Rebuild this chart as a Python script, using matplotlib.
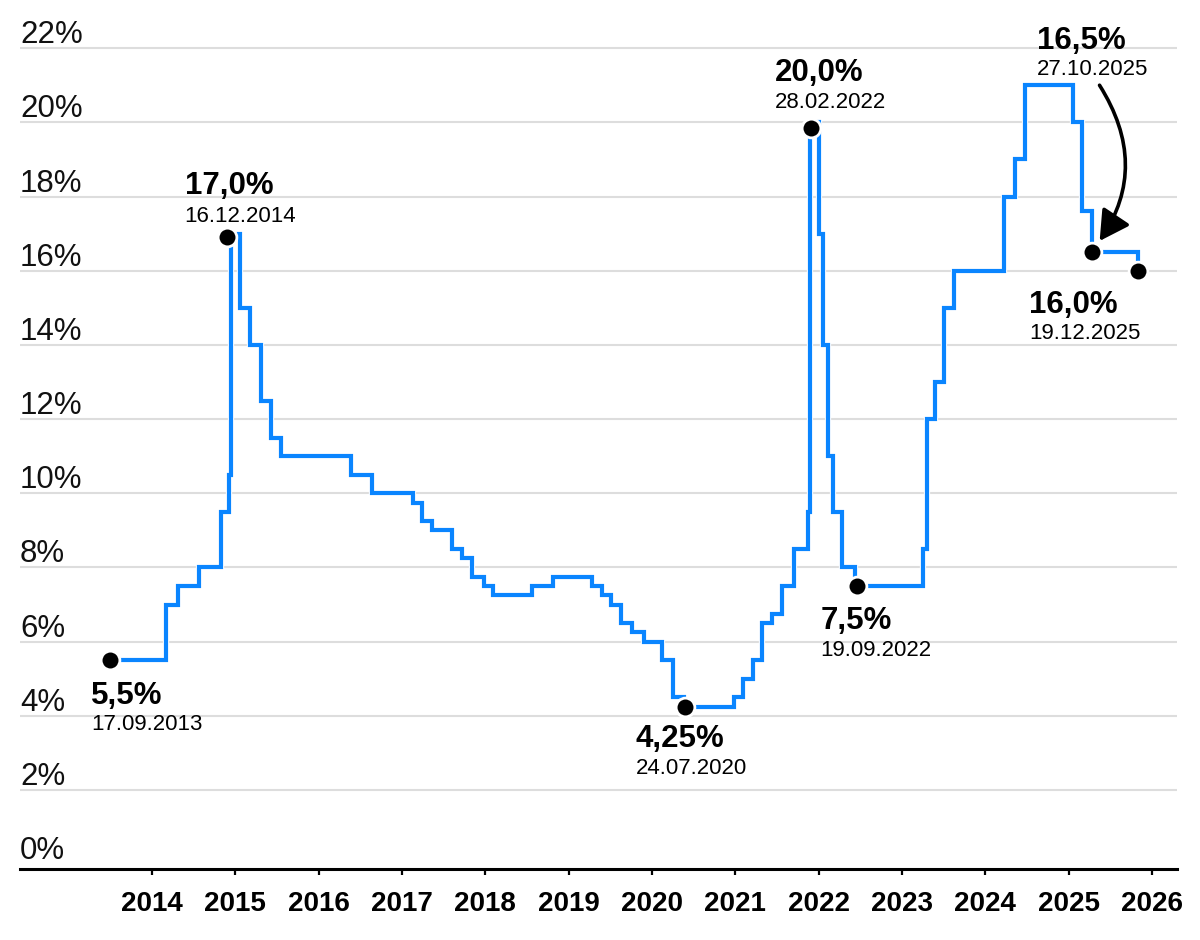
import matplotlib.pyplot as plt
import matplotlib.patheffects as pe

plt.rcParams['font.family'] = ['Liberation Sans', 'DejaVu Sans']

# key rate steps: start of each level (decimal year) and rate in %
step_years = [2013.496, 2014.168, 2014.316, 2014.564, 2014.824, 2014.924, 2014.942,
              2015.056, 2015.176, 2015.308, 2015.424, 2015.544, 2016.384, 2016.636,
              2017.136, 2017.236, 2017.356, 2017.596, 2017.716, 2017.836, 2017.984,
              2018.096, 2018.557, 2018.808, 2019.284, 2019.397, 2019.505, 2019.629,
              2019.756, 2019.908, 2020.116, 2020.256, 2020.384, 2020.984, 2021.088,
              2021.216, 2021.316, 2021.446, 2021.556, 2021.704, 2021.868, 2021.896,
              2022.008, 2022.048, 2022.116, 2022.168, 2022.284, 2022.440, 2023.249,
              2023.300, 2023.396, 2023.504, 2023.624, 2024.224, 2024.356, 2024.476,
              2025.056, 2025.156, 2025.276, 2025.836]
step_rates = [5.5, 7.0, 7.5, 8.0, 9.5, 10.5, 17.0,
              15.0, 14.0, 12.5, 11.5, 11.0, 10.5, 10.0,
              9.75, 9.25, 9.0, 8.5, 8.25, 7.75, 7.5,
              7.25, 7.5, 7.75, 7.5, 7.25, 7.0, 6.5,
              6.25, 6.0, 5.5, 4.5, 4.25, 4.5, 5.0,
              5.5, 6.5, 6.75, 7.5, 8.5, 9.5, 20.0,
              17.0, 14.0, 11.0, 9.5, 8.0, 7.5, 8.5,
              12.0, 13.0, 15.0, 16.0, 18.0, 19.0, 21.0,
              20.0, 17.6, 16.5, 16.0]

# marked points
mark_years = [2013.496, 2014.896, 2020.396, 2021.908, 2022.456, 2025.276, 2025.836]
mark_rates = [5.5, 16.9, 4.25, 19.85, 7.5, 16.5, 16.0]
mark_values = ['5,5%', '17,0%', '4,25%', '20,0%', '7,5%', '16,5%', '16,0%']
mark_dates = ['17.09.2013', '16.12.2014', '24.07.2020', '28.02.2022',
              '19.09.2022', '27.10.2025', '19.12.2025']

y_ticks = [0, 2, 4, 6, 8, 10, 12, 14, 16, 18, 20, 22]
x_ticks = list(range(2014, 2027))

BLUE = '#0a85ff'
GRID = '#dddddd'

# label offsets in pixels: (dx, dy of value, dy of date)
label_offsets = [(-19, -44, -70), (-42, 43, 15), (-49, -40, -67), (-36, 47, 20),
                 (-36, -43, -70), (-55, 203, 177), (-109, -42, -68)]


def main():
    fig = plt.figure(figsize=(12, 9.4), dpi=100)
    ax = fig.add_axes([0.0167, 0.0755, 0.964, 0.9245])

    ax.set_xlim(2012.416, 2026.30)
    ax.set_ylim(-0.13, 23.3)

    for v in y_ticks[1:]:
        ax.axhline(v, color=GRID, lw=1.5, zorder=1)
    for v in y_ticks:
        ax.annotate(f'{v}%', xy=(0, v), xycoords=('axes fraction', 'data'),
                    xytext=(0, 5), textcoords='offset pixels',
                    ha='left', va='baseline', fontsize=22.5, color='#111111')

    ax.plot(step_years, step_rates, drawstyle='steps-post', color=BLUE, lw=3,
            solid_joinstyle='miter', zorder=3,
            path_effects=[pe.Stroke(linewidth=4.5, foreground='white'), pe.Normal()])

    ax.plot(mark_years, mark_rates, 'o', ms=13.5, mfc='black', mec='white',
            mew=2, zorder=5)

    for x, y, val, date, (dx, dv, dd) in zip(mark_years, mark_rates, mark_values,
                                             mark_dates, label_offsets):
        ax.annotate(val, xy=(x, y), xytext=(dx, dv), textcoords='offset pixels',
                    ha='left', va='baseline', fontsize=22.5, fontweight='bold',
                    color='black', zorder=6)
        ax.annotate(date, xy=(x, y), xytext=(dx, dd), textcoords='offset pixels',
                    ha='left', va='baseline', fontsize=16, color='black', zorder=6)

    # curved arrow from the 16,5% label down to its point
    ax.annotate('', xy=(mark_years[5], mark_rates[5]), xytext=(8, 167),
                textcoords='offset pixels',
                arrowprops=dict(arrowstyle='-|>,head_length=0.9,head_width=0.5',
                                mutation_scale=20, color='black', lw=2.6,
                                connectionstyle='arc3,rad=-0.35',
                                shrinkA=0, shrinkB=10),
                zorder=6)

    for side in ('left', 'right', 'top'):
        ax.spines[side].set_visible(False)
    ax.spines['bottom'].set_color('black')
    ax.spines['bottom'].set_linewidth(2.2)

    ax.set_yticks([])
    ax.set_xticks(x_ticks)
    ax.set_xticklabels([str(y) for y in x_ticks], fontsize=20, fontweight='bold')
    ax.tick_params(axis='x', length=4, width=1.6, color='black', pad=12)

    fig.savefig('out.png', dpi=100, facecolor='white')


if __name__ == '__main__':
    main()
